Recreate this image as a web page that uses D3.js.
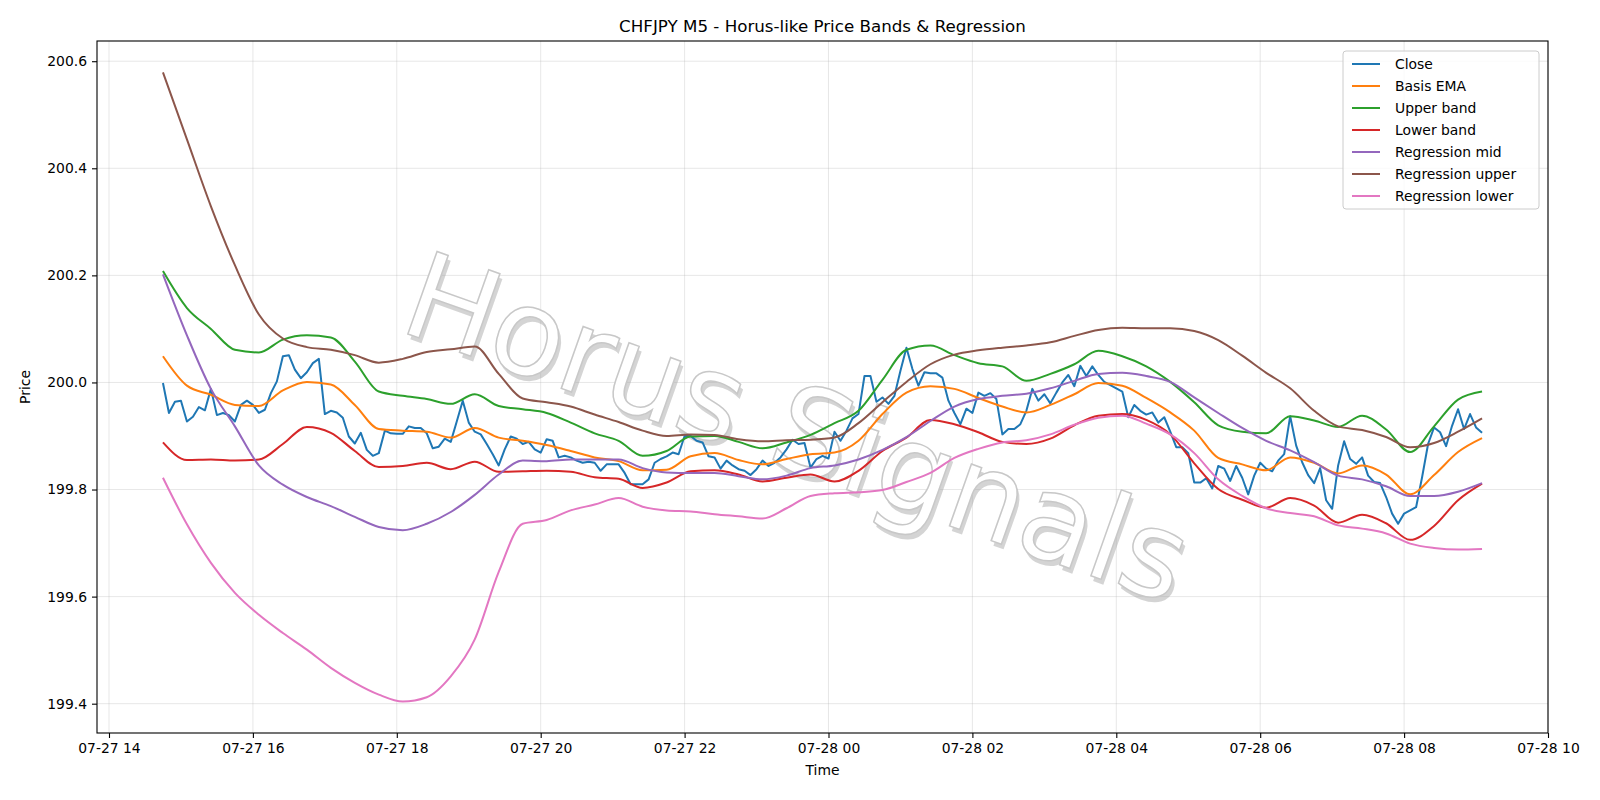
<!DOCTYPE html>
<html>
<head>
<meta charset="utf-8">
<script src="https://cdn.jsdelivr.net/npm/d3@7"></script>
<style>
  body { margin: 0; background: #fff; }
  svg { font-family: "DejaVu Sans", sans-serif; }
</style>
</head>
<body>
<div class="chart"></div>
<script>
// data (5 min bars, 07-27 14:45 -> 07-28 09:05)
var startTime = Date.UTC(2025, 6, 27, 14, 45);
var closeStepMin = 5;
var bandStepMin = 20;

var closePrices = [
  199.999, 199.943, 199.964, 199.966, 199.927, 199.936, 199.954, 199.948, 199.988, 199.939,
  199.943, 199.939, 199.927, 199.958, 199.966, 199.958, 199.943, 199.949, 199.980, 200.002,
  200.049, 200.051, 200.024, 200.008, 200.019, 200.036, 200.044, 199.941, 199.947, 199.944,
  199.934, 199.899, 199.886, 199.906, 199.874, 199.863, 199.868, 199.910, 199.905, 199.904,
  199.904, 199.918, 199.915, 199.915, 199.905, 199.877, 199.880, 199.895, 199.889, 199.927,
  199.966, 199.925, 199.908, 199.903, 199.885, 199.866, 199.845, 199.875, 199.899, 199.895,
  199.885, 199.889, 199.875, 199.869, 199.894, 199.891, 199.860, 199.863, 199.860, 199.854,
  199.850, 199.852, 199.850, 199.835, 199.847, 199.847, 199.847, 199.831, 199.810, 199.810,
  199.810, 199.819, 199.850, 199.857, 199.862, 199.869, 199.866, 199.900, 199.900, 199.891,
  199.888, 199.862, 199.860, 199.839, 199.854, 199.845, 199.838, 199.835, 199.827, 199.838,
  199.854, 199.844, 199.850, 199.860, 199.875, 199.893, 199.885, 199.887, 199.841, 199.857,
  199.863, 199.858, 199.908, 199.891, 199.910, 199.933, 199.941, 200.012, 200.012, 199.964,
  199.972, 199.960, 199.975, 200.022, 200.065, 200.025, 199.994, 200.019, 200.017, 200.017,
  200.009, 199.966, 199.943, 199.922, 199.951, 199.943, 199.981, 199.975, 199.980, 199.969,
  199.903, 199.913, 199.913, 199.922, 199.947, 199.988, 199.966, 199.978, 199.961, 199.981,
  200.000, 200.014, 199.993, 200.031, 200.012, 200.030, 200.014, 200.001, 199.995, 199.989,
  199.983, 199.935, 199.958, 199.947, 199.940, 199.944, 199.925, 199.935, 199.908, 199.879,
  199.879, 199.868, 199.813, 199.813, 199.821, 199.802, 199.844, 199.839, 199.816, 199.844,
  199.822, 199.791, 199.826, 199.850, 199.839, 199.834, 199.854, 199.866, 199.937, 199.882,
  199.851, 199.827, 199.812, 199.840, 199.780, 199.764, 199.845, 199.890, 199.857, 199.848,
  199.860, 199.826, 199.814, 199.812, 199.786, 199.755, 199.736, 199.755, 199.761, 199.767,
  199.823, 199.885, 199.916, 199.907, 199.881, 199.919, 199.950, 199.913, 199.941, 199.916,
  199.906
];

// the smooth series, read every 20 minutes
var basisEma = [
  200.049, 199.994, 199.977, 199.958, 199.956, 199.985, 200.001, 199.996, 199.958, 199.913,
  199.910, 199.908, 199.897, 199.915, 199.897, 199.891, 199.883, 199.872, 199.860, 199.853,
  199.836, 199.837, 199.862, 199.868, 199.855, 199.847, 199.857, 199.866, 199.869, 199.891,
  199.941, 199.981, 199.993, 199.988, 199.971, 199.955, 199.944, 199.958, 199.978, 199.999,
  199.994, 199.971, 199.944, 199.910, 199.859, 199.847, 199.836, 199.860, 199.850, 199.830,
  199.845, 199.828, 199.791, 199.827, 199.870, 199.896
];
var upperBand = [
  200.208, 200.139, 200.100, 200.061, 200.056, 200.080, 200.088, 200.084, 200.039, 199.983,
  199.975, 199.969, 199.960, 199.978, 199.956, 199.950, 199.943, 199.925, 199.905, 199.891,
  199.863, 199.872, 199.899, 199.900, 199.889, 199.877, 199.888, 199.902, 199.924, 199.947,
  200.005, 200.061, 200.069, 200.051, 200.036, 200.030, 200.003, 200.016, 200.034, 200.059,
  200.049, 200.030, 200.001, 199.963, 199.920, 199.908, 199.905, 199.937, 199.929, 199.917,
  199.938, 199.912, 199.870, 199.918, 199.968, 199.983
];
var lowerBand = [
  199.888, 199.855, 199.856, 199.854, 199.856, 199.885, 199.917, 199.906, 199.872, 199.842,
  199.844, 199.850, 199.838, 199.852, 199.833, 199.834, 199.835, 199.833, 199.823, 199.820,
  199.803, 199.813, 199.834, 199.836, 199.828, 199.815, 199.822, 199.828, 199.815, 199.835,
  199.872, 199.897, 199.930, 199.922, 199.907, 199.889, 199.885, 199.895, 199.920, 199.938,
  199.941, 199.930, 199.903, 199.849, 199.801, 199.781, 199.766, 199.784, 199.770, 199.738,
  199.753, 199.737, 199.706, 199.732, 199.780, 199.811
];
var regMid = [
  200.202, 200.088, 199.988, 199.918, 199.845, 199.809, 199.786, 199.769, 199.749, 199.730,
  199.724, 199.736, 199.758, 199.790, 199.828, 199.854, 199.853, 199.856, 199.856, 199.856,
  199.840, 199.832, 199.831, 199.831, 199.825, 199.819, 199.826, 199.840, 199.845, 199.856,
  199.874, 199.898, 199.928, 199.955, 199.969, 199.975, 199.979, 199.989, 200.003, 200.016,
  200.018, 200.012, 200.001, 199.972, 199.943, 199.915, 199.891, 199.873, 199.851, 199.826,
  199.819, 199.806, 199.788, 199.788, 199.796, 199.812
];
var regUpper = [
  200.579, 200.454, 200.329, 200.219, 200.127, 200.082, 200.066, 200.061, 200.051, 200.037,
  200.044, 200.057, 200.062, 200.067, 200.016, 199.970, 199.963, 199.955, 199.940, 199.926,
  199.910, 199.900, 199.903, 199.902, 199.894, 199.890, 199.892, 199.893, 199.897, 199.924,
  199.963, 200.001, 200.034, 200.052, 200.060, 200.065, 200.069, 200.075, 200.087, 200.098,
  200.102, 200.101, 200.101, 200.096, 200.079, 200.050, 200.018, 199.989, 199.947, 199.918,
  199.911, 199.898, 199.879, 199.887, 199.908, 199.933
];
var regLower = [
  199.822, 199.735, 199.663, 199.607, 199.566, 199.532, 199.501, 199.467, 199.439, 199.417,
  199.404, 199.412, 199.451, 199.520, 199.646, 199.736, 199.743, 199.761, 199.772, 199.784,
  199.768, 199.761, 199.759, 199.754, 199.750, 199.746, 199.765, 199.788, 199.793, 199.795,
  199.799, 199.814, 199.831, 199.859, 199.876, 199.888, 199.892, 199.903, 199.921, 199.934,
  199.938, 199.923, 199.903, 199.868, 199.819, 199.788, 199.765, 199.756, 199.750, 199.733,
  199.727, 199.718, 199.699, 199.691, 199.688, 199.689
];

var yTicks = [199.4, 199.6, 199.8, 200.0, 200.2, 200.4, 200.6];

var closeTimes = closePrices.map(function(d, i) { return new Date(startTime + i * closeStepMin * 60000); });
var bandTimes = basisEma.map(function(d, i) { return new Date(startTime + i * bandStepMin * 60000); });

var seriesList = [
  { name: "Close", times: closeTimes, values: closePrices, color: "#1f77b4", smooth: false },
  { name: "Basis EMA", times: bandTimes, values: basisEma, color: "#ff7f0e", smooth: true },
  { name: "Upper band", times: bandTimes, values: upperBand, color: "#2ca02c", smooth: true },
  { name: "Lower band", times: bandTimes, values: lowerBand, color: "#d62728", smooth: true },
  { name: "Regression mid", times: bandTimes, values: regMid, color: "#9467bd", smooth: true },
  { name: "Regression upper", times: bandTimes, values: regUpper, color: "#8c564b", smooth: true },
  { name: "Regression lower", times: bandTimes, values: regLower, color: "#e377c2", smooth: true }
];

var svgWidth = 1600;
var svgHeight = 800;
var margin = { top: 41, right: 52, bottom: 67, left: 97 };
var width = svgWidth - margin.left - margin.right;
var height = svgHeight - margin.top - margin.bottom;

var svg = d3.select(".chart")
  .append("svg")
  .attr("width", svgWidth)
  .attr("height", svgHeight);

var chart = svg.append("g")
  .attr("transform", `translate(${margin.left}, ${margin.top})`);

// matplotlib style 5% margins
var t0 = closeTimes[0], t1 = closeTimes[closeTimes.length - 1];
var tPad = (t1 - t0) * 0.05;
var xScale = d3.scaleUtc()
  .domain([new Date(+t0 - tPad), new Date(+t1 + tPad)])
  .range([0, width]);

var allValues = d3.merge(seriesList.map(function(s) { return s.values; }));
var vMin = d3.min(allValues), vMax = d3.max(allValues);
var vPad = (vMax - vMin) * 0.05;
var yScale = d3.scaleLinear()
  .domain([vMin - vPad, vMax + vPad])
  .range([height, 0]);

var xTicks = xScale.ticks(d3.utcHour.every(2));

// grid
chart.append("g").selectAll("line").data(xTicks).enter().append("line")
  .attr("x1", function(d) { return xScale(d); })
  .attr("x2", function(d) { return xScale(d); })
  .attr("y1", 0).attr("y2", height)
  .attr("stroke", "#b0b0b0").attr("stroke-opacity", 0.3).attr("stroke-width", 1);
chart.append("g").selectAll("line").data(yTicks).enter().append("line")
  .attr("x1", 0).attr("x2", width)
  .attr("y1", function(d) { return yScale(d); })
  .attr("y2", function(d) { return yScale(d); })
  .attr("stroke", "#b0b0b0").attr("stroke-opacity", 0.3).attr("stroke-width", 1);

// watermark
var wmText = "Horus Signals";
var wm = chart.append("g")
  .attr("transform", `translate(${width / 2 - 25}, ${height / 2 + 41}) rotate(19.5)`);
wm.append("text")
  .attr("x", 4).attr("y", 4)
  .attr("text-anchor", "middle")
  .attr("dominant-baseline", "central")
  .attr("font-size", 120)
  .attr("fill", "#a0a0a0")
  .attr("fill-opacity", 0.45)
  .text(wmText);
wm.append("text")
  .attr("text-anchor", "middle")
  .attr("dominant-baseline", "central")
  .attr("font-size", 120)
  .attr("fill", "#ffffff")
  .attr("stroke", "#c8c8c8")
  .attr("stroke-width", 1.5)
  .text(wmText);

// lines
var straightLine = d3.line()
  .x(function(d) { return xScale(d[0]); })
  .y(function(d) { return yScale(d[1]); });
var smoothLine = d3.line()
  .curve(d3.curveMonotoneX)
  .x(function(d) { return xScale(d[0]); })
  .y(function(d) { return yScale(d[1]); });

chart.append("g").selectAll("path").data(seriesList).enter().append("path")
  .attr("d", function(s) { return (s.smooth ? smoothLine : straightLine)(d3.zip(s.times, s.values)); })
  .attr("fill", "none")
  .attr("stroke", function(s) { return s.color; })
  .attr("stroke-width", 2)
  .attr("stroke-linejoin", "round");

// axes
var xAxis = d3.axisBottom(xScale).tickValues(xTicks)
  .tickFormat(d3.utcFormat("%m-%d %H")).tickSizeOuter(0).tickSize(5).tickPadding(5);
var yAxis = d3.axisLeft(yScale).tickValues(yTicks)
  .tickFormat(d3.format(".1f")).tickSizeOuter(0).tickSize(5).tickPadding(5);

var gx = chart.append("g").attr("transform", `translate(0, ${height})`).call(xAxis);
var gy = chart.append("g").call(yAxis);
[gx, gy].forEach(function(g) {
  g.select(".domain").remove();
  g.selectAll("text").attr("font-size", 13.9).attr("fill", "#000").attr("font-family", "DejaVu Sans");
  g.selectAll("line").attr("stroke", "#000").attr("stroke-width", 1.1);
});

// frame
chart.append("rect")
  .attr("width", width).attr("height", height)
  .attr("fill", "none").attr("stroke", "#000").attr("stroke-width", 1.1);

// titles
svg.append("text")
  .attr("x", margin.left + width / 2).attr("y", 32)
  .attr("text-anchor", "middle").attr("font-size", 16.7)
  .text("CHFJPY M5 - Horus-like Price Bands & Regression");
svg.append("text")
  .attr("x", margin.left + width / 2).attr("y", 775)
  .attr("text-anchor", "middle").attr("font-size", 13.9)
  .text("Time");
svg.append("text")
  .attr("transform", `translate(25, ${margin.top + height / 2}) rotate(-90)`)
  .attr("text-anchor", "middle").attr("font-size", 13.9)
  .attr("dominant-baseline", "central")
  .text("Price");

// legend
var legend = svg.append("g").attr("transform", "translate(1343, 51)");
legend.append("rect")
  .attr("width", 196).attr("height", 158).attr("rx", 3)
  .attr("fill", "#fff").attr("fill-opacity", 0.8)
  .attr("stroke", "#cccccc").attr("stroke-width", 1);
var items = legend.selectAll("g.item").data(seriesList).enter().append("g")
  .attr("class", "item")
  .attr("transform", function(d, i) { return `translate(0, ${13 + i * 22})`; });
items.append("line")
  .attr("x1", 9).attr("x2", 37)
  .attr("stroke", function(d) { return d.color; })
  .attr("stroke-width", 2);
items.append("text")
  .attr("x", 52).attr("dominant-baseline", "central")
  .attr("font-size", 13.9)
  .text(function(d) { return d.name; });
</script>
</body>
</html>
